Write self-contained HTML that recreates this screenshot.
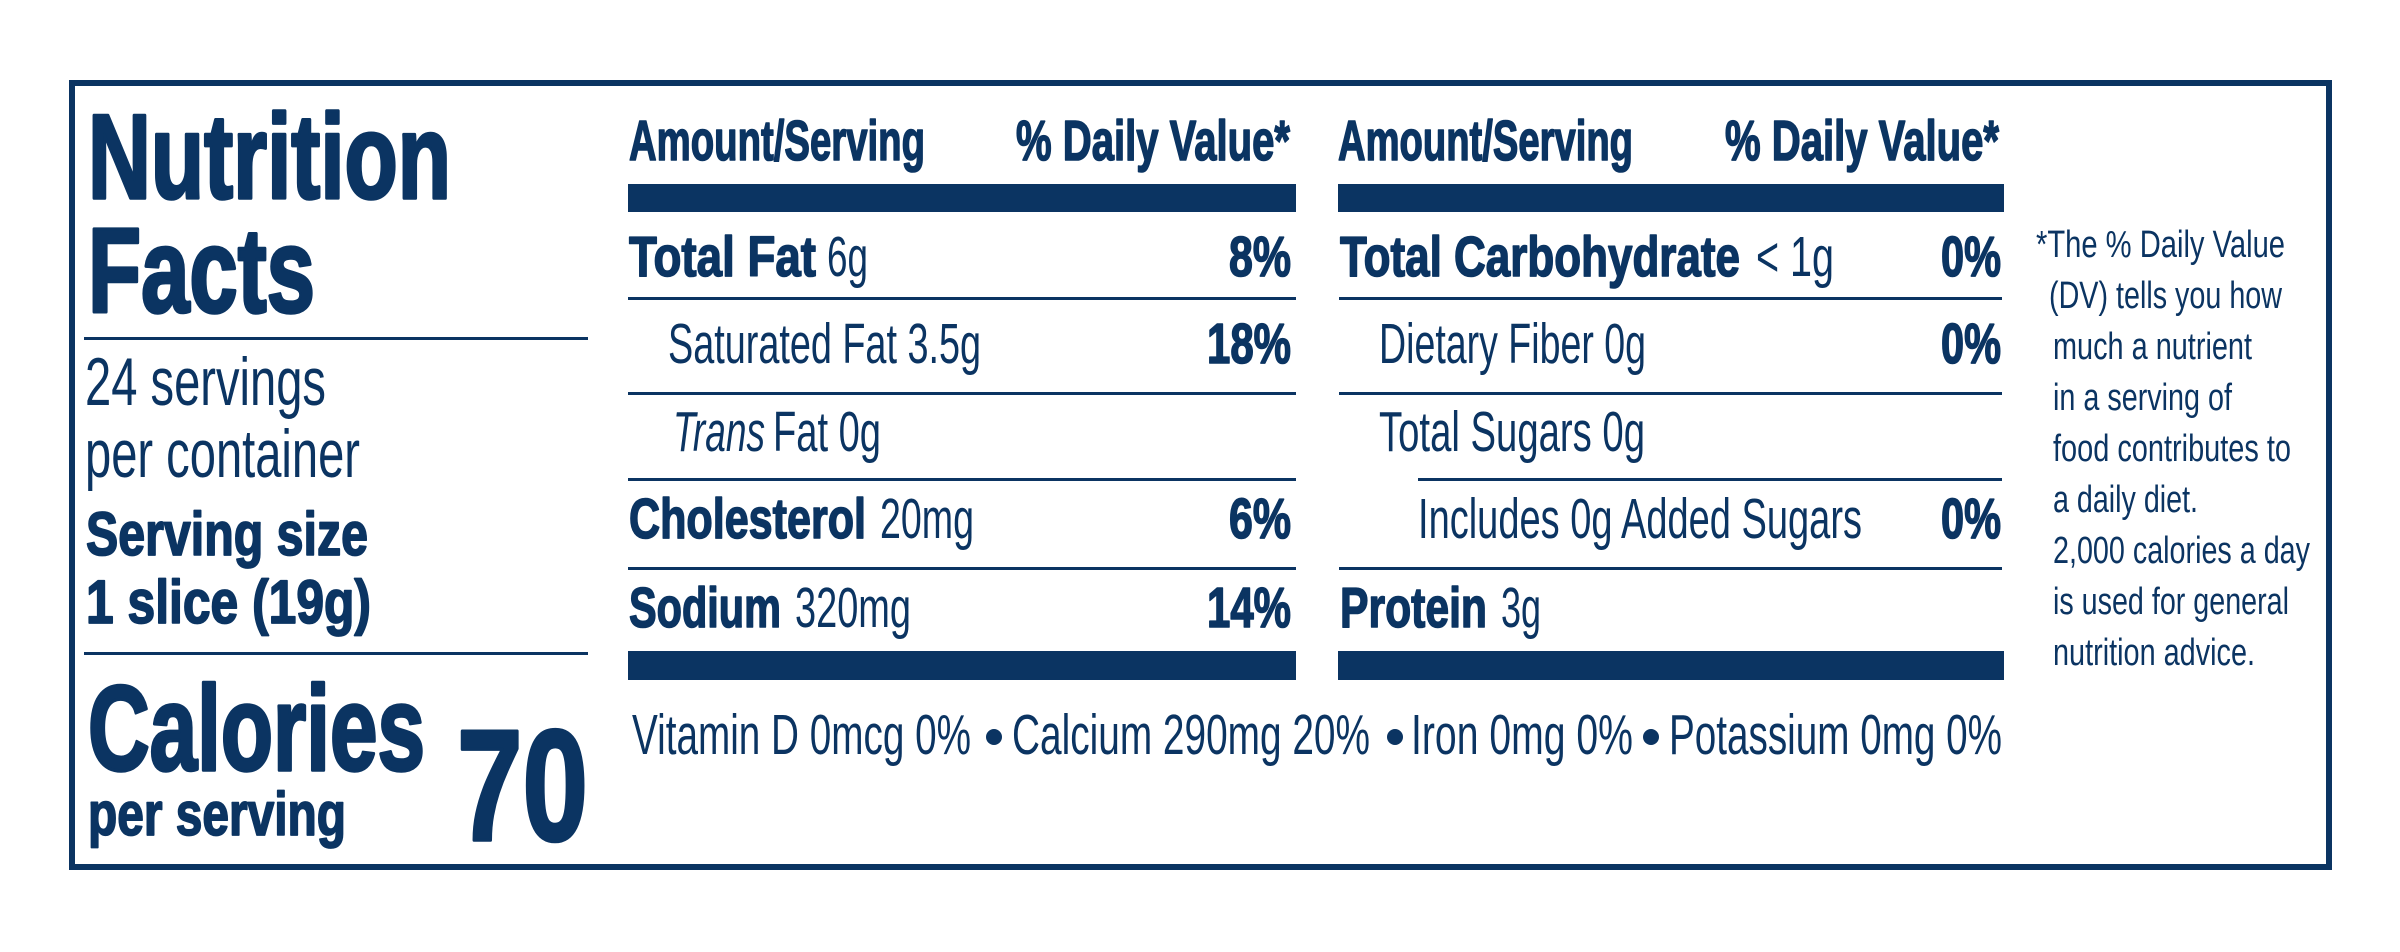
<!DOCTYPE html>
<html>
<head>
<meta charset="utf-8">
<style>
html,body{margin:0;padding:0;background:#fff;}
svg{display:block;}
text{font-family:"Liberation Sans",Arial,sans-serif;fill:#0b3462;}
.b{font-weight:bold;stroke:#0b3462;stroke-width:1.6;stroke-linejoin:round;}
.bb{font-weight:bold;stroke:#0b3462;stroke-width:3.5;stroke-linejoin:round;}
.bm{font-weight:bold;stroke:#0b3462;stroke-width:1.8;stroke-linejoin:round;}
</style>
</head>
<body>
<svg width="2400" height="952" viewBox="0 0 2400 952" xmlns="http://www.w3.org/2000/svg">
<rect x="0" y="0" width="2400" height="952" fill="#fff"/>
<!-- outer border -->
<rect x="72" y="83" width="2257" height="784" fill="none" stroke="#0b3462" stroke-width="6"/>

<!-- LEFT COLUMN -->
<text class="bb" x="88" y="198" font-size="120" textLength="363" lengthAdjust="spacingAndGlyphs">Nutrition</text>
<text class="bb" x="88" y="312" font-size="120" textLength="227" lengthAdjust="spacingAndGlyphs">Facts</text>
<rect x="84" y="337" width="504" height="3" fill="#0b3462"/>
<text x="85" y="405" font-size="68" textLength="241" lengthAdjust="spacingAndGlyphs">24 servings</text>
<text x="85" y="477" font-size="68" textLength="275" lengthAdjust="spacingAndGlyphs">per container</text>
<text class="bm" x="86" y="555" font-size="61" textLength="282" lengthAdjust="spacingAndGlyphs">Serving size</text>
<text class="bm" x="86" y="623" font-size="61" textLength="285" lengthAdjust="spacingAndGlyphs">1 slice (19g)</text>
<rect x="84" y="652" width="504" height="3" fill="#0b3462"/>
<text class="bb" x="88" y="770" font-size="121" textLength="337" lengthAdjust="spacingAndGlyphs">Calories</text>
<text class="bm" x="88" y="835" font-size="61" textLength="258" lengthAdjust="spacingAndGlyphs">per serving</text>
<text class="bb" x="457" y="840" font-size="158" stroke-width="4.5" textLength="131" lengthAdjust="spacingAndGlyphs">70</text>

<!-- COLUMN 1 -->
<text class="b" x="629" y="160" font-size="57" textLength="296" lengthAdjust="spacingAndGlyphs">Amount/Serving</text>
<text class="b" x="1016" y="160" font-size="57" textLength="274" lengthAdjust="spacingAndGlyphs">% Daily Value*</text>
<rect x="628" y="184" width="668" height="28" fill="#0b3462"/>

<text class="b" x="629" y="276" font-size="57" textLength="187" lengthAdjust="spacingAndGlyphs">Total Fat</text>
<text x="827" y="276" font-size="57" textLength="41" lengthAdjust="spacingAndGlyphs">6g</text>
<text class="b" x="1229" y="276" font-size="57" textLength="62" lengthAdjust="spacingAndGlyphs">8%</text>
<rect x="628" y="297" width="668" height="3" fill="#0b3462"/>

<text x="668" y="363" font-size="57" textLength="313" lengthAdjust="spacingAndGlyphs">Saturated Fat 3.5g</text>
<text class="b" x="1207" y="363" font-size="57" textLength="84" lengthAdjust="spacingAndGlyphs">18%</text>
<rect x="628" y="392" width="668" height="3" fill="#0b3462"/>

<text x="673" y="451" font-size="57" font-style="italic" textLength="92" lengthAdjust="spacingAndGlyphs">Trans</text>
<text x="773" y="451" font-size="57" textLength="108" lengthAdjust="spacingAndGlyphs">Fat 0g</text>
<rect x="628" y="478" width="668" height="3" fill="#0b3462"/>

<text class="b" x="629" y="538" font-size="57" textLength="237" lengthAdjust="spacingAndGlyphs">Cholesterol</text>
<text x="880" y="538" font-size="57" textLength="94" lengthAdjust="spacingAndGlyphs">20mg</text>
<text class="b" x="1229" y="538" font-size="57" textLength="62" lengthAdjust="spacingAndGlyphs">6%</text>
<rect x="628" y="567" width="668" height="3" fill="#0b3462"/>

<text class="b" x="629" y="627" font-size="57" textLength="152" lengthAdjust="spacingAndGlyphs">Sodium</text>
<text x="795" y="627" font-size="57" textLength="116" lengthAdjust="spacingAndGlyphs">320mg</text>
<text class="b" x="1207" y="627" font-size="57" textLength="84" lengthAdjust="spacingAndGlyphs">14%</text>
<rect x="628" y="651" width="668" height="29" fill="#0b3462"/>

<!-- COLUMN 2 -->
<text class="b" x="1338" y="160" font-size="57" textLength="295" lengthAdjust="spacingAndGlyphs">Amount/Serving</text>
<text class="b" x="1725" y="160" font-size="57" textLength="274" lengthAdjust="spacingAndGlyphs">% Daily Value*</text>
<rect x="1338" y="184" width="666" height="28" fill="#0b3462"/>

<text class="b" x="1340" y="276" font-size="57" textLength="400" lengthAdjust="spacingAndGlyphs">Total Carbohydrate</text>
<text x="1756" y="276" font-size="57" textLength="78" lengthAdjust="spacingAndGlyphs">&lt; 1g</text>
<text class="b" x="1941" y="276" font-size="57" textLength="60" lengthAdjust="spacingAndGlyphs">0%</text>
<rect x="1339" y="297" width="663" height="3" fill="#0b3462"/>

<text x="1379" y="363" font-size="57" textLength="267" lengthAdjust="spacingAndGlyphs">Dietary Fiber 0g</text>
<text class="b" x="1941" y="363" font-size="57" textLength="60" lengthAdjust="spacingAndGlyphs">0%</text>
<rect x="1339" y="392" width="663" height="3" fill="#0b3462"/>

<text x="1379" y="451" font-size="57" textLength="266" lengthAdjust="spacingAndGlyphs">Total Sugars 0g</text>
<rect x="1418" y="478" width="584" height="3" fill="#0b3462"/>

<text x="1418" y="538" font-size="57" textLength="444" lengthAdjust="spacingAndGlyphs">Includes 0g Added Sugars</text>
<text class="b" x="1941" y="538" font-size="57" textLength="60" lengthAdjust="spacingAndGlyphs">0%</text>
<rect x="1339" y="567" width="663" height="3" fill="#0b3462"/>

<text class="b" x="1340" y="627" font-size="57" textLength="147" lengthAdjust="spacingAndGlyphs">Protein</text>
<text x="1501" y="627" font-size="57" textLength="40" lengthAdjust="spacingAndGlyphs">3g</text>
<rect x="1338" y="651" width="666" height="29" fill="#0b3462"/>

<!-- VITAMINS -->
<text x="632" y="754" font-size="57" textLength="339" lengthAdjust="spacingAndGlyphs">Vitamin D 0mcg 0%</text>
<circle cx="994" cy="737" r="8" fill="#0b3462"/>
<text x="1012" y="754" font-size="57" textLength="358" lengthAdjust="spacingAndGlyphs">Calcium 290mg 20%</text>
<circle cx="1395" cy="737" r="8" fill="#0b3462"/>
<text x="1411" y="754" font-size="57" textLength="222" lengthAdjust="spacingAndGlyphs">Iron 0mg 0%</text>
<circle cx="1651" cy="737" r="8" fill="#0b3462"/>
<text x="1669" y="754" font-size="57" textLength="333" lengthAdjust="spacingAndGlyphs">Potassium 0mg 0%</text>

<!-- FOOTNOTE -->
<text x="2036" y="257" font-size="38" textLength="249" lengthAdjust="spacingAndGlyphs">*The % Daily Value</text>
<text x="2049" y="308" font-size="38" textLength="233" lengthAdjust="spacingAndGlyphs">(DV) tells you how</text>
<text x="2053" y="359" font-size="38" textLength="199" lengthAdjust="spacingAndGlyphs">much a nutrient</text>
<text x="2053" y="410" font-size="38" textLength="179" lengthAdjust="spacingAndGlyphs">in a serving of</text>
<text x="2053" y="461" font-size="38" textLength="238" lengthAdjust="spacingAndGlyphs">food contributes to</text>
<text x="2053" y="512" font-size="38" textLength="145" lengthAdjust="spacingAndGlyphs">a daily diet.</text>
<text x="2053" y="563" font-size="38" textLength="257" lengthAdjust="spacingAndGlyphs">2,000 calories a day</text>
<text x="2053" y="614" font-size="38" textLength="236" lengthAdjust="spacingAndGlyphs">is used for general</text>
<text x="2053" y="665" font-size="38" textLength="202" lengthAdjust="spacingAndGlyphs">nutrition advice.</text>
</svg>
</body>
</html>
